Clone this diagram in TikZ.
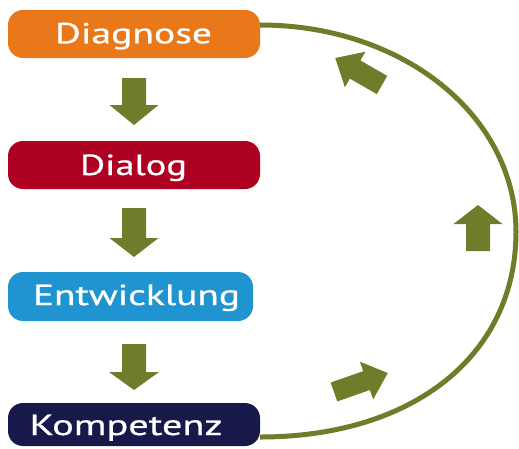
\documentclass[tikz,border=0pt]{standalone}
\usepackage{fontspec}
\usepackage{graphicx}
\newfontfamily\boxfont[FakeBold=0.6]{PT Sans}
\definecolor{cDiag}{RGB}{233,120,26}
\definecolor{cDial}{RGB}{174,0,32}
\definecolor{cEntw}{RGB}{32,148,208}
\definecolor{cKomp}{RGB}{22,25,74}
\definecolor{cOlive}{RGB}{112,124,42}
\tikzset{
  box/.style={rounded corners=15pt, inner sep=0pt, draw=none},
  lbl/.style={text=white, inner sep=0pt, anchor=base, font=\boxfont\fontsize{29}{30}\selectfont},
  arrowfill/.style={fill=cOlive},
  loopline/.style={draw=cOlive, line width=5pt}
}
% #1 tail centre, #2 angle, #3 length, #4 half shaft, #5 half head, #6 head length
\newcommand\blockarr[6]{%
  \fill[arrowfill, shift={(#1)}, rotate=#2]
    (0,-#4) -- ({#3-#6},-#4) -- ({#3-#6},-#5) -- (#3,0) -- ({#3-#6},#5)
    -- ({#3-#6},#4) -- (0,#4) -- cycle;}
\begin{document}
\begin{tikzpicture}[x=1pt,y=-1pt]
\useasboundingbox (0,0) rectangle (519,448);
\fill[white] (0,0) rectangle (519,448);
% loop
\coordinate (arcTop) at (260,25);
\coordinate (arcR) at (516,232);
\coordinate (arcBot) at (260,437);
\draw[loopline] (arcBot) .. controls (413.6,437) and (516,355) .. (arcR)
  .. controls (516,116) and (403.4,25) .. (arcTop);
% boxes
\node[box, fill=cDiag, minimum width=252pt, minimum height=48pt] (diag) at (134,34) {};
\node[box, fill=cDial, minimum width=252pt, minimum height=48pt] (dial) at (134,165) {};
\node[box, fill=cEntw, minimum width=245pt, minimum height=49pt] (entw) at (130.5,296.5) {};
\node[box, fill=cKomp, minimum width=252pt, minimum height=43pt] (komp) at (134,424.5) {};
% labels
\node[lbl] (tdiag) at (133.5,43.3) {\resizebox{157pt}{\height}{Diagnose}};
\node[lbl] (tdial) at (133.5,175) {\resizebox{107pt}{\height}{Dialog}};
\node[lbl] (tentw) at (136.5,305) {\resizebox{207pt}{\height}{Entwicklung}};
\node[lbl] (tkomp) at (126,435) {\resizebox{193pt}{\height}{Kompetenz}};
% down arrows
\blockarr{134,78}{-90}{47}{12}{24.5}{20}
\blockarr{134,208}{-90}{49}{12}{24.5}{19}
\blockarr{134,344}{-90}{46}{12}{25}{18}
% arrows along the loop
\blockarr{382,85}{150}{54}{10.5}{20.5}{23}
\blockarr{478,251}{90}{46}{12}{24.5}{19}
\blockarr{334,392}{19.4}{57}{10}{20}{22.5}
\end{tikzpicture}
\end{document}
